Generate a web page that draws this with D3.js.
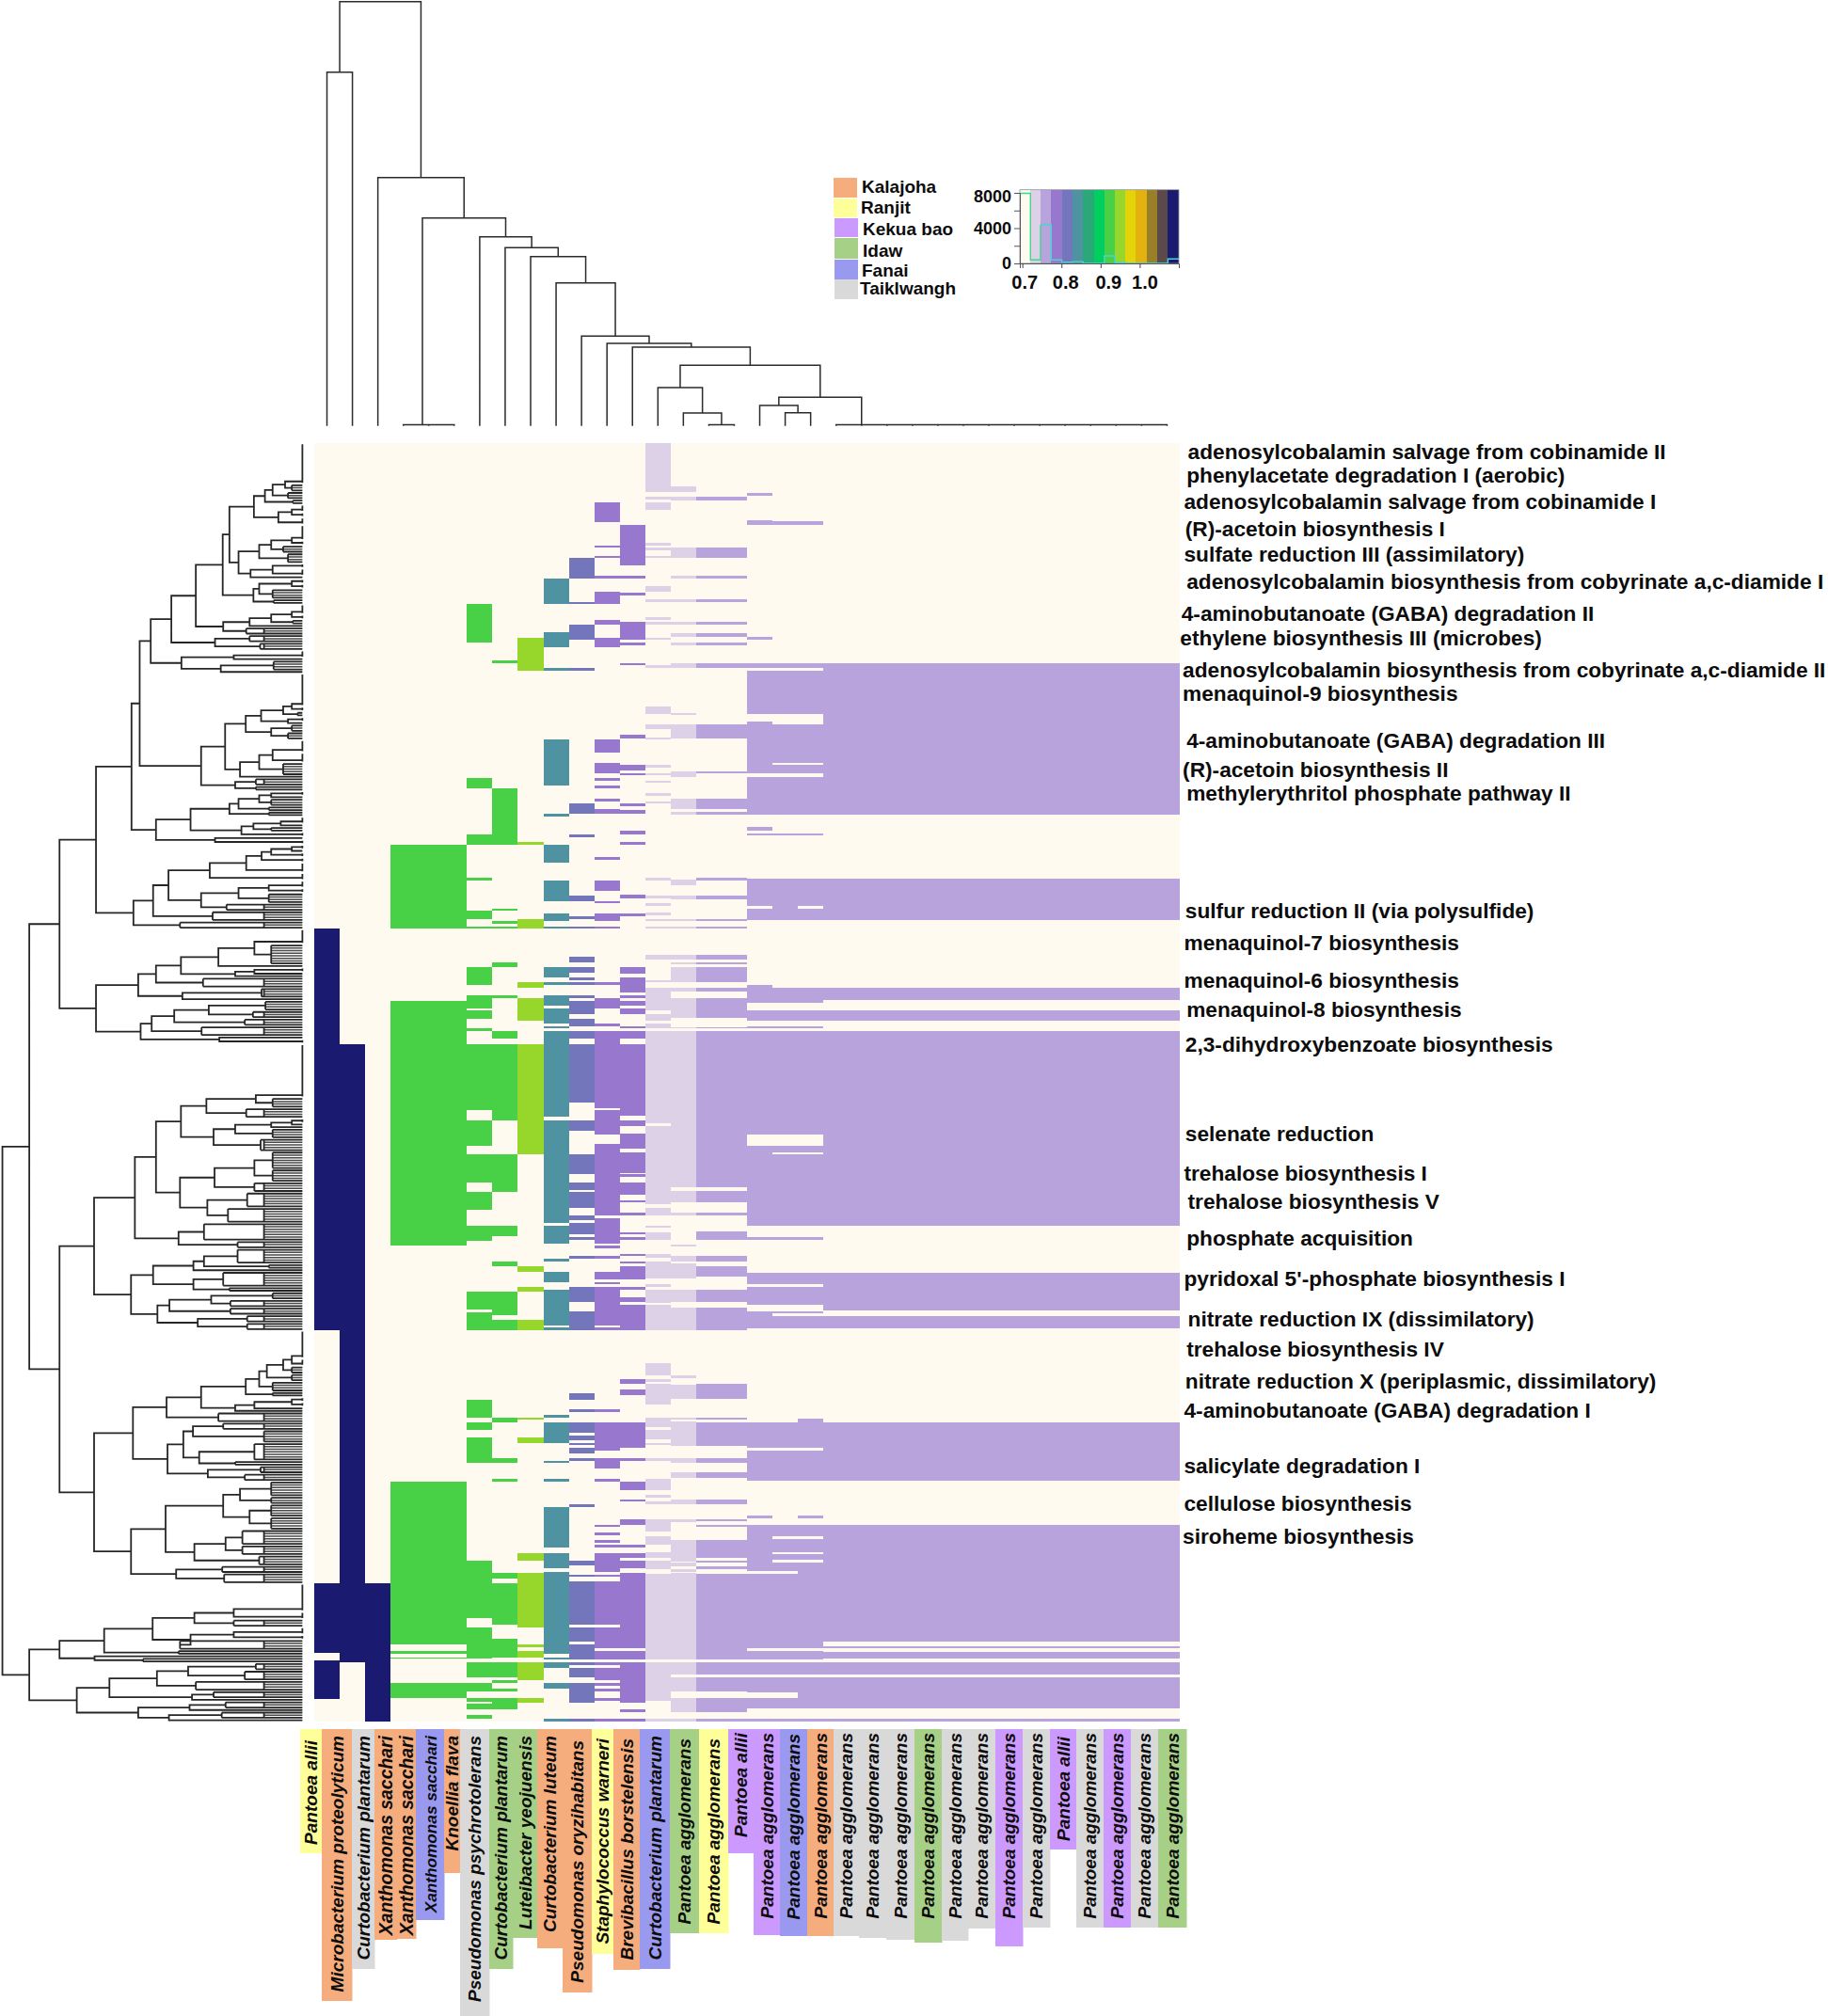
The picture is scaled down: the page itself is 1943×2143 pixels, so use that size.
<!DOCTYPE html>
<html><head><meta charset="utf-8">
<script src="https://cdn.jsdelivr.net/npm/d3@7"></script>
<style>html,body{margin:0;padding:0;background:#fff}svg{display:block}text{font-family:"Liberation Sans",Arial,sans-serif;font-weight:bold;fill:#0c0c0c}</style>
</head><body><div id="c"></div>
<script>
// ---------- DATA ----------
const ROWS = 500;
const keyBreaks = [.6936,.7208,.7464,.7736,.8008,.828,.8552,.8824,.9096,.9368,.964,.9904,1.0176,1.0456,1.072,1.1];
const keyColors = ["#fffaef","#ddd1e8","#b8a3dc","#9878cf","#7376bb","#4f93a2","#2aa877","#00cf60","#48d047","#97d62a","#e3d308","#e4b20e","#9a7f2a","#5c4a4a","#1a1a70"];
const histCounts = [7950,400,4400,400,150,200,0,0,850,100,0,0,0,0,500];
const keyTicks = [0.7,0.8,0.9,1.0];
const keyCountTicks = [0,2000,4000,6000,8000];
const keyCountLabels = [0,4000,8000];

const groups = ["Kalajoha","Ranjit","Kekua bao","Idaw","Fanai","Taiklwangh"];
const groupColors = ["#f5ad7e","#ffff99","#cc99ff","#a6d086","#9999f0","#d9d9d9"];

const colNames = ["Pantoea allii","Microbacterium proteolyticum","Curtobacterium plantarum","Xanthomonas sacchari","Xanthomonas sacchari","Xanthomonas sacchari","Knoellia flava","Pseudomonas psychrotolerans","Curtobacterium plantarum","Luteibacter yeojuensis","Curtobacterium luteum","Pseudomonas oryzihabitans","Staphylococcus warneri","Brevibacillus borstelensis","Curtobacterium plantarum","Pantoea agglomerans","Pantoea agglomerans","Pantoea allii","Pantoea agglomerans","Pantoea agglomerans","Pantoea agglomerans","Pantoea agglomerans","Pantoea agglomerans","Pantoea agglomerans","Pantoea agglomerans","Pantoea agglomerans","Pantoea agglomerans","Pantoea agglomerans","Pantoea agglomerans","Pantoea allii","Pantoea agglomerans","Pantoea agglomerans","Pantoea agglomerans","Pantoea agglomerans"];
const colGroup = [1,0,5,0,0,4,0,5,3,3,0,0,1,0,4,3,1,2,2,4,0,5,5,5,3,5,5,2,5,2,5,2,5,3];
const colIdentity = [1.09,1.09,1.09,.92,.92,.92,.92,.92,.95,.84,.81,.79,.79,.73,.73,.76,.76,.76,.76,.76,.76,.76,.76,.76,.76,.76,.76,.76,.76,.76,.76,.76,.76,.76];

const runs0 = [[190,347],[446,473],[476,491]];
const runs1 = [[235,477]];
const runs2 = [[446,500]];
const runs3to5 = [[157,190],[218,314],[406,470],[472.4,473.6],[474.9,475.5],[484.8,490.8]];
const runs6 = [[63,78],[131,135],[153,157],[170,171],[183,186],[189,190],[205,212],[216,221],[222,225],[229,230],[235,261],[265,275],[278,289],[293,300],[306,312],[332,338.8],[340,347],[374,381],[383,386],[389,399],[437,459.5],[463.2,475.5],[476.9,482.8],[484.9,488.4],[490.8,492.2],[492.9,495.1],[497.6,498.8]];
const runs7 = [[85,86],[135,157],[182,183],[187,188],[189,190],[203,205],[216,217],[230,233],[235,265],[278,293],[306,310],[320,322],[332,341],[343,347],[381,383],[397,399],[405,406],[442,444],[446,462],[467.5,474.9],[476.9,482.8],[483.7,484.9],[487.3,488.4],[490.8,495.1]];
const runs8 = [[76,89],[156,157],[186,190],[211,213],[217,226],[235,278],[322,324],[330,332],[343,347],[381,382],[389,391],[434,437],[442,463.2],[470,470.9],[472.4,474.9],[476.9,483.7],[490.8,492.6]];
const runs9 = [[53,63],[74,80],[88,89],[116,134],[145,146],[157,164],[171,179],[184,187],[189,190],[205,209],[211,212],[216,220],[221,227],[228,229],[230,263.5],[265,305],[306,313],[319,320],[324,328],[331,345],[346,347],[380,381],[383,391],[398,399],[405,406],[416,432],[434,440],[441.5,473.6],[474.9,475.7],[476.9,479.2],[484.9,487.3],[498.8,500]];
const runs10 = [[45,53],[62,63],[71,77],[88,89],[141,145],[153,154],[177,179],[185,186],[189,190],[201,203],[205,207],[209,210],[211,212],[216,217],[218,223.5],[225,228],[230,233],[235,258],[265,269],[278,286],[289,292],[293,299],[302,304],[305,309.5],[310.5,311.5],[318,319],[330,336],[339.5,347],[371.5,374],[378,379],[383,387],[388,390],[391,392],[393,395],[397,398],[415,416],[437,439],[442.5,443.5],[445,462],[463.2,468.7],[470,475.7],[476.9,477.9],[479.2,482.8],[484.9,492.6],[498.8,500]];
const runs11 = [[23,31],[40,41],[44,45],[52,53],[58,63],[69,71],[76,80],[116,121],[125,129],[131,132],[134,135],[139,140],[143,145],[162,163],[171,175],[179,180],[184,187],[189,190],[211,212],[217,221],[227,228],[230,260],[261,270.5],[274,302],[303,313],[314,315],[318,319],[324,327],[328,329],[330,345],[346,347],[378,379],[383,394],[397,401],[405,406],[423,424],[426,427],[429,430],[431,432],[434,441.5],[442.5,443.5],[445,462],[463.2,471.2],[472.4,475.7],[476.9,477.9],[479.2,483.7],[484.9,486],[487.3,488.4],[490.8,492],[498.8,500]];
const runs12 = [[32,48],[52,53],[58.5,59.5],[70,77],[78,79],[86,87],[114,115.5],[126,128],[129,130],[141,142],[143.5,145],[151.5,153],[156,157],[176.5,178],[184,185],[205,207.5],[209,215],[216,217],[218,220],[221,223.5],[228,229],[230,233],[235,263],[265,267],[270,276],[277.5,285.5],[286,287],[289,294],[296,297],[301,302],[308.6,309.5],[310.5,311.8],[317,318],[320,321],[322,327],[330,331],[334,336],[337,347],[366,368],[370,372.5],[383,393],[397,398],[406,409.5],[413,414],[421,423],[431,432],[434,436],[437,440],[442,471.2],[472.4,475.7],[476.9,492.6],[495.1,496.3],[498.8,500]];
const runs13 = [[0,19],[21,22],[23,26],[39,40],[41,42],[44,45],[56,58],[61,62],[68,69],[70,71],[76,77],[87,88],[103,106],[110,112],[115,116],[126,127],[129,130],[132,133],[137,138],[140,141],[170,171],[177,178],[180,181],[183.5,184.6],[186,187],[189,190],[200,202],[210,211],[213,222],[223.5,226],[227,229],[230,266],[267,297.6],[299,302],[306,307],[308.6,311.5],[317,318.5],[320,326.7],[329,330],[331.3,336.3],[337,347],[360,364.5],[366,367],[368,376],[381,385],[386,389.6],[391,392],[397,398],[405,409.5],[411.5,412.5],[414,415],[421,425.6],[427.5,431],[433.7,435.8],[437,440.3],[442.3,475.7],[476.9,492],[498.8,500]];
const runs14 = [[17,19],[21,22.6],[41,45],[52,53],[61,62],[70,71],[74.5,75.7],[78,79],[86,88],[105.5,106.3],[110,115.5],[128.4,130.5],[139,143],[144.3,145.3],[170.6,173],[177,178.5],[186,187],[189,190],[200,202],[203,204],[205,211],[213,214.5],[217,224.7],[228.4,229],[230,291],[292.6,296.8],[301,302],[313.4,314.2],[318,320],[321,326.7],[331,336],[338,347],[364.5,365.7],[368.4,373.7],[381,382],[382.5,392.3],[397,399],[402.5,404.7],[413,415],[421,422],[428.9,437.4],[438,439.3],[440.3,441.4],[441.8,475.7],[476.9,481.6],[482.8,488.4],[490.8,496.3],[498.8,500]];
const runs15to16 = [[21,22.6],[41,45],[52,53],[61,62],[70,71],[74.5,75.7],[78,79],[86,88],[110,115.5],[128.4,129.3],[139,143],[144.3,145.3],[170,171],[177,178.5],[186,187],[189,190],[200,202],[203,204],[205,211],[213,214.5],[217,224.7],[228.4,229],[230,291],[292.6,296.8],[301,302],[308.4,311.5],[318,320],[322,326],[331,336],[338,347],[368,373.7],[381,382],[383,392.3],[397,399],[402.5,404.7],[413,415],[421,421.6],[423,424],[429,436],[437,437.9],[439.3,440.3],[442.3,475.7],[476.9,481.6],[482.8,488.4],[490.8,496.3],[498.8,500]];
const runs17 = [[19.5,20.7],[30,32],[75.7,76.9],[86,88],[89,106],[109,129],[130.5,145.3],[150.2,151.5],[152.7,153.3],[170.5,181],[182,186.4],[212,219],[222,226],[228,229],[230,270.3],[275,306],[310.5,311.8],[324.4,329],[330,337],[339.5,346.1],[383,393],[394.1,405.8],[419.3,420.7],[423,441.1],[442.3,471.2],[472.4,475.7],[476.9,481.6],[482.8,488.6],[490.7,495],[498.8,500]];
const runs18 = [[30.7,32],[86,88],[89,106],[110,125],[126,129],[130.5,145.3],[152.7,153.3],[170.5,186.4],[213,219],[222,226],[228,229],[230,270.3],[275,277.5],[278.3,306],[310.5,311.8],[324.4,329],[330,337],[339.5,340.5],[341.5,346.1],[383,393],[394.1,405.8],[423,427.6],[428.6,433.6],[434.4,436.8],[438,441.1],[442.3,471.2],[472.4,475.7],[476.9,481.6],[482.8,488.6],[490.7,495],[498.8,500]];
const runs19 = [[30.7,32],[86,88],[89,106],[110,125],[126,129],[130.5,145.3],[152.7,153.3],[170.5,181],[182,186.4],[213,219],[222,226],[228,229],[230,270.3],[275,277.5],[278.3,306],[310.5,311.8],[324.4,329],[330,337],[339.5,340.5],[341.5,346.1],[381.6,393],[394.1,405.8],[419.3,420.7],[423,427.6],[428.6,433.6],[434.4,436.8],[438,471.2],[472.4,475.7],[476.9,481.6],[482.8,495],[498.8,500]];
const runs20to33 = [[86,145.3],[170.5,186.4],[213,217.9],[222,225.9],[230,306],[324.4,339.3],[341.6,346.1],[383,405.8],[423,468.6],[470.4,471.4],[472.9,475.4],[476.9,481.6],[482.8,495],[498.8,500]];
const columnRuns = [runs0,runs1,runs2,runs3to5,runs3to5,runs3to5,runs6,runs7,runs8,runs9,runs10,runs11,runs12,runs13,runs14,runs15to16,runs15to16,runs17,runs18,runs19,
  runs20to33,runs20to33,runs20to33,runs20to33,runs20to33,runs20to33,runs20to33,runs20to33,runs20to33,runs20to33,runs20to33,runs20to33,runs20to33,runs20to33];

const pathways = ["adenosylcobalamin salvage from cobinamide II","phenylacetate degradation I (aerobic)","adenosylcobalamin salvage from cobinamide I","(R)-acetoin biosynthesis I","sulfate reduction III (assimilatory)","adenosylcobalamin biosynthesis from cobyrinate a,c-diamide I","4-aminobutanoate (GABA) degradation II","ethylene biosynthesis III (microbes)","adenosylcobalamin biosynthesis from cobyrinate a,c-diamide II","menaquinol-9 biosynthesis","4-aminobutanoate (GABA) degradation III","(R)-acetoin biosynthesis II","methylerythritol phosphate pathway II","sulfur reduction II (via polysulfide)","menaquinol-7 biosynthesis","menaquinol-6 biosynthesis","menaquinol-8 biosynthesis","2,3-dihydroxybenzoate biosynthesis","selenate reduction","trehalose biosynthesis I","trehalose biosynthesis V","phosphate acquisition","pyridoxal 5'-phosphate biosynthesis I","nitrate reduction IX (dissimilatory)","trehalose biosynthesis IV","nitrate reduction X (periplasmic, dissimilatory)","4-aminobutanoate (GABA) degradation I","salicylate degradation I","cellulose biosynthesis","siroheme biosynthesis"];
const pathwayRows = [3.7,12.7,23.3,33.8,43.9,54.5,67,76.6,89.1,98.2,116.8,127.9,137.4,183.1,195.7,210.3,221.9,235.4,270.6,285.7,296.8,311.3,326.9,343,354.6,367.1,378.7,400.3,414.9,427.9];

// top dendrogram: [height, left, right]; a bare number is a column
const ladder20to33 = [1.2,20,[1.2,21,[1.2,22,[1.2,23,[1.2,24,[1.2,25,[1.2,26,[1.2,27,[1.2,28,[1.2,29,[1.2,30,[1.2,31,[1.2,32,33]]]]]]]]]]]]];
const topL = [30.4,[21.7,17,[14,18,19]],ladder20to33];
const topM = [40.7,13,[13.7,14,[1.2,15,16]]];
const topK = [83.7,12,[64.4,topM,topL]];
const topH = [152,9,[95.4,10,[87.7,11,topK]]];
const topE = [201,6,[189.4,7,[180,8,topH]]];
const topRoot = [451,[376,0,1],[264,2,[221,[1.2,3,[1.2,4,5]],topE]]];

// left dendrogram: [h,a,b] merge; [h,n] n leaves joined at h; bare n = n identical rows
const secA = [101,[78,[62,[36,16,[22,3]],[30,3]],[20,2]],[50,[22,3,2],3]];
const secB = [133,[90,[65,[22,6,2],[40,3]],[30,4]],[108,[62,2,3],1]];
const secC = [102,[90,[22,2,2],[62,4]],[60,2]];
const secD = [165,[110,[65,[22,4,2],[20,2]],1],[117,3]];
const secE = [182,[110,3],[88,3]];
const secF = [252,[143,3,1],[170,[60,4],1]];
const n316 = [316,[273,[222,[166,[152,secA,secB],secC],secD],secE],secF];
const secG1 = [118,[86,[40,[22,13,2],[10,2]],[30,2,1]],[65,[22,3],[30,3]]];
const secG2 = [130,[90,[62,5,4],[40,5]],1];
const n339 = [339,n316,[211,[161,secG1,secG2],[140,[97,3],[97,2]]]];
const n233 = [233,[152,[133,[90,[65,2,1],[65,3]],[70,2]],[70,2]],[127,[102,[45,3,1],[65,2]],2]];
const n356 = [356,n339,[305,n233,[182,1,2]]];
const n193 = [193,[117,[85,[65,[22,2,1],2],2],4],3];
const n211b = [211,[133,[70,3,2],[70,4]],[158,3]];
const n352 = [352,[311,[279,n193,n211b],[187,4]],[255,3]];
const n430 = [430,n356,n352];
const n253 = [253,[175,[100,6,[65,8]],1],[140,[100,2,1],1]];
const n342 = [342,[305,n253,[207,4]],[250,[85,4],1]];
const n337 = [337,[314,[267,[195,[77,4],[103,3]],[120,3]],[210,4]],[173,1,2]];
const n506 = [506,n430,[430,n342,n337]];
const n253c = [253,[200,[97,21,[62,4]],[117,4]],[185,[140,[65,[22,2,1],1],[62,4]],[87,5]]];
const n255 = [255,[183,[100,[62,7],[62,5]],[100,4]],[198,[115,6],[155,6]]];
const n349 = [349,[305,n253c,n255],[258,[205,7],[135,3]]];
const n311b = [311,[227,[205,[135,6],[70,2]],1],[227,[165,6],[152,2]]];
const n302 = [302,[277,[190,[62,3],[150,3]],[150,3]],[218,[115,3],[115,3]]];
const n434 = [434,n349,[357,n311b,n302]];
const n90 = [90,[74,[40,[22,11,3],[22,3]],[22,3]],[62,4]];
const n283 = [283,[211,[118,n90,[62,2]],[140,[100,[22,2,2],1],1]],[175,4]];
const n281 = [281,[248,[228,[165,3],[80,5]],[215,[100,7],[140,2]]],[197,[87,3],[120,3]]];
const n285 = [285,[165,[130,[65,6],[65,3]],[110,[65,5],[65,5]]],[225,[160,[125,6],[125,4]],[90,4]]];
const n434b = [434,[353,n283,n281],[357,n285,[263,[167,3],[163,4]]]];
const n569 = [569,n506,[506,n434,n434b]];
const n413 = [413,[312,[225,[143,11,3],[143,3]],[233,[143,3,2],[255,4]]],[258,2]];
const n470 = [470,[402,[303,[238,[97,3],[120,4]],[222,4]],[230,[185,3],1]],[342,[235,[160,3],1],[278,[168,3],1]]];
const n569b = [569,[506,n413,[433,[268,1],[332,2]]],n470];
const leftRoot = [625,n569,n569b];

// ---------- LAYOUT (separate from the data) ----------
const W=1943,H=2143;
const heat={x0:334,x1:1254,y0:471,y1:1830};
const labelEdges=[319,342,374,398,422,442,472,489,520,545,571,598,629,652,680,712,743,774,801,829,858,886,913,942,972,1001,1029,1058,1087,1116,1144,1173,1202,1231,1261];
const labelBottoms=[1970,2127,2093,2062,2061,2041,1991,2143,2093,2060,2071,2118,2077,2094,2093,2055,2055,1970,2057,2058,2058,2058,2060,2062,2065,2063,2050,2069,2049,1966,2049,2049,2049,2049];
const labelTextEnd=[1850,1845,1845,1845,1845,1845,1845,1845,1845,1845,1845,1850,1848,1848,1845,1848,1848,1842,1842,1843,1842,1842,1842,1842,1842,1842,1842,1842,1842,1846,1842,1842,1842,1842];
const labelFont=colNames.map((d,i)=>i===5?17.2:i===3||i===4?19.4:19);
const pathwayX=[924,923,921,922,921,923,919,918,920,920,923,920,923,922,921,921,923,922,922,921,924,923,921,924,923,922,921,921,921,920].map(v=>v*1.3664);
const legendBoxes=[[886,189,25,21],[886,211,25,20],[887,232,25,20],[887,253,25,22],[887,276,25,21],[887,297,25,21]];
const legendText=[[916,205],[915,227],[917,250],[917,272.5],[916,294],[914,313]];

const svg=d3.select("#c").append("svg").attr("width",W).attr("height",H);
svg.append("rect").attr("width",W).attr("height",H).attr("fill","#fff");

const xCol=d3.scaleBand().domain(d3.range(colNames.length)).range([heat.x0,heat.x1]);
const yRow=d3.scaleLinear().domain([0,ROWS]).range([heat.y0,heat.y1]);
const color=d3.scaleThreshold().domain(keyBreaks.slice(1,-1)).range(keyColors);

// heat map
const gHeat=svg.append("g").attr("shape-rendering","crispEdges");
gHeat.append("rect").attr("x",heat.x0).attr("y",heat.y0).attr("width",heat.x1-heat.x0).attr("height",heat.y1-heat.y0).attr("fill",keyColors[0]);
const cells=columnRuns.flatMap((rs,c)=>rs.map(r=>({c,r0:r[0],r1:r[1]})));
gHeat.selectAll(".cell").data(cells).join("rect").attr("class","cell")
 .attr("x",d=>xCol(d.c)).attr("width",xCol.bandwidth())
 .attr("y",d=>yRow(d.r0)).attr("height",d=>yRow(d.r1)-yRow(d.r0))
 .attr("fill",d=>color(colIdentity[d.c]));

// top dendrogram
const yTop=d3.scaleLinear().domain([0,451.4]).range([452.7,1.3]);
const topPath=d3.path();
function drawTop(n){
  if(typeof n==="number") return {x:xCol(n)+xCol.bandwidth()/2,h:0};
  const a=drawTop(n[1]),b=drawTop(n[2]),y=yTop(n[0]);
  topPath.moveTo(a.x,yTop(a.h));topPath.lineTo(a.x,y);topPath.lineTo(b.x,y);topPath.lineTo(b.x,yTop(b.h));
  return {x:(a.x+b.x)/2,h:n[0]};
}
drawTop(topRoot);
svg.append("path").attr("d",topPath.toString()).attr("fill","none").attr("stroke","#2b2b2b").attr("stroke-width",1.5);

// left dendrogram
const xLeft=d3.scaleLinear().domain([0,630]).range([321.4,0]);
const leftPath=d3.path(), combPath=d3.path();
const combBody=80; // inner comb rows stop here; only the outer rows run out to the node
let rowCursor=0;
function yCenter(i){return yRow(i+.5);}
function drawLeft(n){
  if(typeof n==="number"){ // identical rows
    const first=rowCursor,last=rowCursor+n-1; rowCursor+=n;
    if(n>1){leftPath.moveTo(xLeft(0),yCenter(first));leftPath.lineTo(xLeft(0),yCenter(last));}
    return {y:yCenter(Math.max(first,last-.5)),h:0};
  }
  if(n.length===2){ // comb
    const first=rowCursor,last=rowCursor+n[1]-1; rowCursor+=n[1];
    const inner=Math.min(n[0],combBody);
    for(let i=first;i<=last;i++){
      const outer=(i===first||i===last);
      (outer?leftPath:combPath).moveTo(xLeft(outer?n[0]:inner),yCenter(i));
      (outer?leftPath:combPath).lineTo(xLeft(0),yCenter(i));
    }
    leftPath.moveTo(xLeft(n[0]),yCenter(first));leftPath.lineTo(xLeft(n[0]),yCenter(last));
    if(n[1]>2&&n[0]>inner){leftPath.moveTo(xLeft(inner),yCenter(first));leftPath.lineTo(xLeft(inner),yCenter(last));}
    return {y:yCenter((first+last)/2),h:n[0]};
  }
  const a=drawLeft(n[1]),b=drawLeft(n[2]),x=xLeft(n[0]);
  leftPath.moveTo(xLeft(a.h),a.y);leftPath.lineTo(x,a.y);leftPath.lineTo(x,b.y);leftPath.lineTo(xLeft(b.h),b.y);
  return {y:(a.y+b.y)/2,h:n[0]};
}
drawLeft(leftRoot);
svg.append("path").attr("d",combPath.toString()).attr("fill","none").attr("stroke","#4a4a4a").attr("stroke-width",1.5);
svg.append("path").attr("d",leftPath.toString()).attr("fill","none").attr("stroke","#262626").attr("stroke-width",1.8);

// row labels
svg.append("g").selectAll("text").data(pathways).join("text")
 .attr("x",(d,i)=>pathwayX[i]).attr("y",(d,i)=>yRow(pathwayRows[i])+1)
 .attr("dominant-baseline","middle").attr("font-size",22.7).text(d=>d);

// column labels
const gLab=svg.append("g");
gLab.selectAll("rect").data(colNames).join("rect")
 .attr("x",(d,i)=>labelEdges[i]).attr("width",(d,i)=>labelEdges[i+1]-labelEdges[i]+.5)
 .attr("y",1838).attr("height",(d,i)=>labelBottoms[i]-1838)
 .attr("fill",(d,i)=>groupColors[colGroup[i]]);
gLab.selectAll("text").data(colNames).join("text")
 .attr("transform",(d,i)=>`translate(${(labelEdges[i]+labelEdges[i+1])/2+6.5},${labelTextEnd[i]}) rotate(-90)`)
 .attr("text-anchor","end").attr("font-style","italic").attr("font-size",(d,i)=>labelFont[i]).text(d=>d);

// legend
const gLeg=svg.append("g");
gLeg.selectAll("rect").data(groups).join("rect")
 .attr("x",(d,i)=>legendBoxes[i][0]).attr("y",(d,i)=>legendBoxes[i][1])
 .attr("width",(d,i)=>legendBoxes[i][2]).attr("height",(d,i)=>legendBoxes[i][3])
 .attr("fill",(d,i)=>groupColors[i]);
gLeg.selectAll("text").data(groups).join("text")
 .attr("x",(d,i)=>legendText[i][0]).attr("y",(d,i)=>legendText[i][1]).attr("font-size",19).text(d=>d);

// colour key with histogram
const kx=d3.scaleLinear().domain([keyBreaks[0],keyBreaks[15]]).range([1084,1253]);
const ky=d3.scaleLinear().domain([0,8000]).range([280,205]);
const gKey=svg.append("g");
gKey.append("g").attr("shape-rendering","crispEdges").selectAll("rect").data(keyColors).join("rect")
 .attr("x",(d,i)=>kx(keyBreaks[i])).attr("width",(d,i)=>kx(keyBreaks[i+1])-kx(keyBreaks[i]))
 .attr("y",201.7).attr("height",78.3).attr("fill",d=>d);
gKey.append("rect").attr("x",1084).attr("y",201.7).attr("width",169).attr("height",78.3).attr("fill","none").attr("stroke","#8a8f9a").attr("stroke-width",.8);
const histPts=[];histCounts.forEach((v,i)=>{histPts.push([keyBreaks[i],v]);histPts.push([keyBreaks[i+1],v]);});
const histLine=d3.line().x(d=>kx(d[0])).y(d=>ky(d[1]));
gKey.append("path").attr("d",histLine(histPts.slice(0,5))).attr("fill","none").attr("stroke","#36dd86").attr("stroke-width",1.4);
gKey.append("path").attr("d",histLine(histPts.slice(4))).attr("fill","none").attr("stroke","#45d6d2").attr("stroke-width",1.4);
const axX=d3.axisBottom(kx).tickValues(keyTicks).tickFormat(d3.format(".1f")).tickSize(5).tickPadding(5);
const gx=gKey.append("g").attr("transform","translate(0,280)").call(axX);
gx.select(".domain").attr("stroke","#555");gx.selectAll("line").attr("stroke","#445");
const xNudge=[2,4,8,5];
gx.selectAll("text").attr("font-size",20).attr("fill","#0c0c0c").attr("dx",(d,i)=>xNudge[i]).attr("dy",".85em").attr("font-family","Liberation Sans").attr("font-weight","bold");
const axY=d3.axisLeft(ky).tickValues(keyCountTicks).tickFormat(d=>keyCountLabels.includes(d)?d:"").tickSize(6).tickPadding(3);
const gy=gKey.append("g").attr("transform","translate(1084,0)").call(axY);
gy.select(".domain").attr("stroke","#555");gy.selectAll("line").attr("stroke","#555");
const yNudge={0:-1,4000:0,8000:3};
gy.selectAll("text").attr("font-size",18).attr("fill","#0c0c0c").attr("dy",d=>(yNudge[d]||0)+6).attr("font-family","Liberation Sans").attr("font-weight","bold");
</script></body></html>
